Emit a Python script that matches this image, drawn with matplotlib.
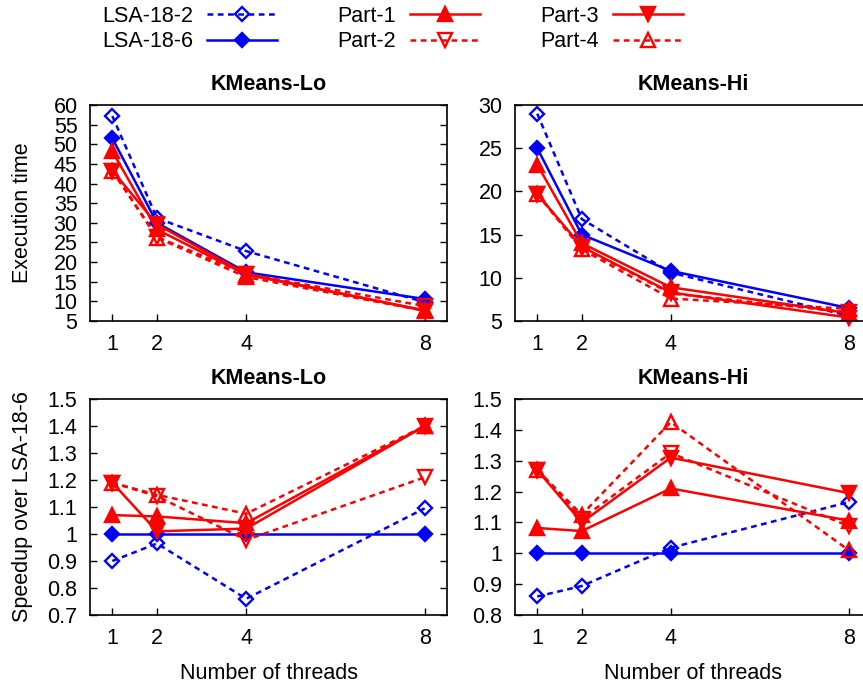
import matplotlib
matplotlib.use("Agg")
import matplotlib.pyplot as plt
from matplotlib.lines import Line2D
from matplotlib.ticker import FormatStrFormatter

plt.rcParams['font.family'] = ['Liberation Sans', 'DejaVu Sans']

threads = [1, 2, 4, 8]
series = ['LSA-18-2', 'LSA-18-6', 'Part-1', 'Part-2', 'Part-3', 'Part-4']

# execution time, KMeans-Lo
time_lo = {
    'LSA-18-2': [57.2, 31.2, 22.8, 9.8],
    'LSA-18-6': [51.5, 30.0, 17.4, 10.6],
    'Part-1':   [48.2, 28.3, 16.8, 7.7],
    'Part-2':   [43.3, 26.4, 17.0, 8.8],
    'Part-3':   [43.3, 29.6, 17.0, 7.6],
    'Part-4':   [43.3, 26.2, 16.2, 7.6],
}
# execution time, KMeans-Hi
time_hi = {
    'LSA-18-2': [29.0, 16.8, 10.6, 5.6],
    'LSA-18-6': [25.0, 15.0, 10.8, 6.5],
    'Part-1':   [23.1, 14.0, 8.9, 5.9],
    'Part-2':   [19.7, 13.5, 8.2, 6.0],
    'Part-3':   [19.7, 13.6, 8.3, 5.4],
    'Part-4':   [19.7, 13.3, 7.6, 6.4],
}
# speedup over LSA-18-6, KMeans-Lo
speed_lo = {
    'LSA-18-2': [0.90, 0.965, 0.76, 1.095],
    'LSA-18-6': [1.0, 1.0, 1.0, 1.0],
    'Part-1':   [1.07, 1.065, 1.04, 1.40],
    'Part-2':   [1.19, 1.14, 0.978, 1.21],
    'Part-3':   [1.19, 1.01, 1.02, 1.40],
    'Part-4':   [1.19, 1.145, 1.075, 1.40],
}
# speedup over LSA-18-6, KMeans-Hi
speed_hi = {
    'LSA-18-2': [0.86, 0.894, 1.018, 1.166],
    'LSA-18-6': [1.0, 1.0, 1.0, 1.0],
    'Part-1':   [1.082, 1.072, 1.21, 1.106],
    'Part-2':   [1.27, 1.112, 1.325, 1.088],
    'Part-3':   [1.27, 1.10, 1.31, 1.195],
    'Part-4':   [1.27, 1.125, 1.425, 1.01],
}

DASH = (2.3, 1.8)
styles = {
    'LSA-18-2': dict(color='blue', dashes=DASH, marker='D', ms=7.5, mfc='none', mew=1.7),
    'LSA-18-6': dict(color='blue', ls='-', marker='D', ms=7.5, mew=1.7),
    'Part-1':   dict(color='red', ls='-', marker='^', ms=10, mew=1.7),
    'Part-2':   dict(color='red', dashes=DASH, marker='v', ms=10, mfc='none', mew=1.7),
    'Part-3':   dict(color='red', ls='-', marker='v', ms=10, mew=1.7),
    'Part-4':   dict(color='red', dashes=DASH, marker='^', ms=10, mfc='none', mew=1.7),
}

W, H = 863, 684
fig = plt.figure(figsize=(W / 100, H / 100), dpi=100)


def px_axes(x0, y0, x1, y1):
    return fig.add_axes([x0 / W, 1 - y1 / H, (x1 - x0) / W, (y1 - y0) / H])


panels = [
    (px_axes(90, 105, 447, 321), time_lo, 'KMeans-Lo', (5, 60), [5, 10, 15, 20, 25, 30, 35, 40, 45, 50, 55, 60]),
    (px_axes(515, 105, 871, 321), time_hi, 'KMeans-Hi', (5, 30), [5, 10, 15, 20, 25, 30]),
    (px_axes(90, 399, 447, 615), speed_lo, 'KMeans-Lo', (0.7, 1.5), [0.7, 0.8, 0.9, 1.0, 1.1, 1.2, 1.3, 1.4, 1.5]),
    (px_axes(515, 399, 871, 615), speed_hi, 'KMeans-Hi', (0.8, 1.5), [0.8, 0.9, 1.0, 1.1, 1.2, 1.3, 1.4, 1.5]),
]

FS = 15.5
for ax, data, title, ylim, yticks in panels:
    for name in series:
        ax.plot(threads, data[name], lw=1.8, clip_on=False, **styles[name])
    ax.set_xlim(0.5, 8.5)
    ax.set_ylim(*ylim)
    ax.set_xticks(threads)
    ax.set_yticks(yticks)
    ax.yaxis.set_major_formatter(FormatStrFormatter('%g'))
    ax.tick_params(direction='in', length=5, width=1, labelsize=FS, pad=9,
                   right=True, top=False)
    for sp in ax.spines.values():
        sp.set_linewidth(1.2)
    ax.set_title(title, fontsize=FS, fontweight='bold', pad=11)

panels[0][0].set_ylabel('Execution time', fontsize=FS)
panels[0][0].yaxis.set_label_coords(-0.161, 0.5)
panels[2][0].set_ylabel('Speedup over LSA-18-6', fontsize=FS)
panels[2][0].yaxis.set_label_coords(-0.161, 0.5)
for ax in (panels[2][0], panels[3][0]):
    ax.set_xlabel('Number of threads', fontsize=FS)
    ax.xaxis.set_label_coords(0.5, -0.223)

handles = [Line2D([], [], lw=1.8, **styles[n]) for n in series]
fig.legend(handles, series, ncol=3, markerfirst=False, frameon=False,
           loc='upper left', bbox_to_anchor=(102 / W, 1 - 6 / H),
           fontsize=FS, handlelength=3.25, handletextpad=0.65,
           columnspacing=2.8, labelspacing=0.2, borderpad=0, borderaxespad=0)

fig.savefig('out.png', dpi=100)
